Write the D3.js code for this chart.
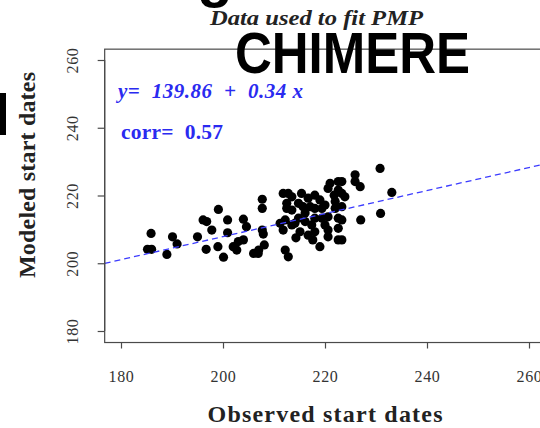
<!DOCTYPE html>
<html>
<head>
<meta charset="utf-8">
<script src="https://cdn.jsdelivr.net/npm/d3@7/dist/d3.min.js"></script>
<style>
  html, body { margin: 0; padding: 0; background: #fff; }
  svg { display: block; }
</style>
</head>
<body>
<svg id="chart" width="540" height="428"></svg>
<script>
// ---- data ----
const observed = [
  185.2, 186.0, 185.9, 189.0, 190.1, 191.0, 195.0, 196.1, 196.8, 197.8,
  196.7, 199.1, 200.9, 200.9, 204.0, 204.6, 199.0, 200.1, 202.0, 202.7,
  203.0, 204.0, 206.9, 206.0, 207.0, 208.1, 207.7, 207.7, 207.7, 207.9,
  211.8, 212.8, 213.5, 212.5, 212.5, 211.2, 212.2, 211.8, 213.5, 214.1,
  212.2, 212.8, 221.0, 222.6, 220.6, 222.6, 215.4, 216.7, 218.0, 219.0,
  220.0, 214.8, 215.7, 217.1, 218.0, 219.4, 222.0, 222.0, 214.8, 216.1,
  217.4, 218.0, 219.4, 220.6, 215.1, 216.7, 218.0, 220.6, 220.6, 222.6,
  222.6, 222.6, 219.0, 223.3, 225.9, 225.9, 226.9, 230.8, 223.3, 223.9,
  233.1, 223.3, 223.3, 227.0, 230.9, 223.3, 213.5, 216.1, 220.0, 217.6,
  221.8, 214.3
];
const modeled = [
  204.1, 204.1, 208.8, 202.6, 207.8, 205.7, 207.8, 212.8, 212.3, 209.8,
  204.1, 215.9, 212.8, 209.0, 213.0, 210.8, 204.9, 201.8, 204.9, 203.9,
  206.4, 206.9, 202.9, 202.9, 203.9, 205.4, 218.9, 216.2, 209.8, 208.6,
  220.6, 220.6, 219.6, 217.7, 216.2, 211.8, 212.8, 209.8, 211.3, 211.8,
  203.9, 201.9, 223.6, 224.1, 222.1, 221.6, 220.6, 219.2, 220.1, 218.7,
  217.2, 217.7, 216.7, 216.7, 216.2, 216.2, 218.2, 216.2, 213.3, 212.3,
  211.3, 213.3, 213.3, 213.7, 209.3, 208.3, 209.3, 209.8, 207.8, 213.3,
  210.3, 206.9, 204.9, 224.1, 226.1, 224.1, 222.6, 228.0, 220.6, 219.6,
  220.9, 216.7, 212.8, 212.8, 214.7, 206.9, 215.7, 214.8, 211.3, 206.9,
  220.1, 207.5
];
const xTicks = [180, 200, 220, 240, 260];
const yTicks = [180, 200, 220, 240, 260];
const fitIntercept = 139.86;
const fitSlope = 0.34;
const corrValue = 0.57;
const xLimits = [176.8, 263.2];
const yLimits = [176.6, 263.2];
const titleText = "Data used to fit PMP";
const overlayText = "CHIMERE";
const xTitle = "Observed start dates";
const yTitle = "Modeled start dates";

// ---- drawing ----
const svg = d3.select("#chart");
const x = d3.scaleLinear().domain([180, 260]).range([121, 529]);
const y = d3.scaleLinear().domain([180, 260]).range([331, 60]);

const serif = "'Liberation Serif', 'DejaVu Serif', serif";
const sans = "'Liberation Sans', Arial, sans-serif";

// clip for plot region
const x0 = x(xLimits[0]), x1 = x(xLimits[1]);
const y0 = y(yLimits[1]), y1 = y(yLimits[0]);
svg.append("clipPath").attr("id", "plotclip")
  .append("rect").attr("x", x0).attr("y", y0).attr("width", x1 - x0).attr("height", y1 - y0);

// points
const pts = observed.map((d, i) => ({ o: d, m: modeled[i] }));
svg.append("g").selectAll("circle").data(pts).join("circle")
  .attr("cx", d => x(d.o)).attr("cy", d => y(d.m)).attr("r", 4.6)
  .attr("fill", "#000");

// regression line (abline)
svg.append("line")
  .attr("clip-path", "url(#plotclip)")
  .attr("x1", x(xLimits[0])).attr("y1", y(fitIntercept + fitSlope * xLimits[0]))
  .attr("x2", x(xLimits[1])).attr("y2", y(fitIntercept + fitSlope * xLimits[1]))
  .attr("stroke", "#3c3cff").attr("stroke-width", 1.3)
  .attr("stroke-dasharray", "6,4");

// box
svg.append("rect").attr("x", x0).attr("y", y0).attr("width", x1 - x0).attr("height", y1 - y0)
  .attr("fill", "none").attr("stroke", "#4a4a4a").attr("stroke-width", 1.2);

// x axis
const gx = svg.append("g").attr("transform", `translate(0,${y1})`)
  .call(d3.axisBottom(x).tickValues(xTicks).tickSize(6).tickFormat(d3.format("d")));
gx.select(".domain").attr("stroke", "#4a4a4a").attr("stroke-width", 1.2)
  .attr("d", `M${x(180)},0H${x(260)}`);
gx.selectAll(".tick line").attr("stroke", "#4a4a4a").attr("stroke-width", 1.2);
gx.selectAll(".tick text").attr("y", 39).attr("dy", 0)
  .attr("font-family", serif).attr("font-size", 16).attr("fill", "#333")
  .attr("letter-spacing", 0.6);

// y axis
const gy = svg.append("g").attr("transform", `translate(${x0},0)`)
  .call(d3.axisLeft(y).tickValues(yTicks).tickSize(7).tickFormat(d3.format("d")));
gy.select(".domain").attr("stroke", "#4a4a4a").attr("stroke-width", 1.2)
  .attr("d", `M0,${y(180)}V${y(260)}`);
gy.selectAll(".tick line").attr("stroke", "#4a4a4a").attr("stroke-width", 1.2);
gy.selectAll(".tick text")
  .attr("x", 0).attr("y", 0).attr("dy", 0)
  .attr("transform", "translate(-27,0) rotate(-90)")
  .attr("text-anchor", "middle")
  .attr("font-family", serif).attr("font-size", 16).attr("fill", "#333")
  .attr("letter-spacing", 0.6);

// axis titles
svg.append("text").attr("x", 325).attr("y", 422).attr("text-anchor", "middle")
  .attr("font-family", serif).attr("font-weight", "bold").attr("font-size", 24)
  .attr("fill", "#222").attr("textLength", 235).attr("lengthAdjust", "spacing")
  .text(xTitle);
svg.append("text").attr("transform", "translate(35,175) rotate(-90)").attr("text-anchor", "middle")
  .attr("font-family", serif).attr("font-weight", "bold").attr("font-size", 24)
  .attr("fill", "#222").attr("textLength", 206).attr("lengthAdjust", "spacing")
  .text(yTitle);

// subtitle
svg.append("text").attr("x", 210).attr("y", 25)
  .attr("font-family", serif).attr("font-weight", "bold").attr("font-style", "italic")
  .attr("font-size", 21).attr("fill", "#222")
  .attr("textLength", 213).attr("lengthAdjust", "spacingAndGlyphs")
  .text(titleText);

// fit annotations
svg.append("text").attr("x", 118).attr("y", 98)
  .attr("xml:space", "preserve").style("white-space", "pre")
  .attr("font-family", serif).attr("font-weight", "bold").attr("font-style", "italic")
  .attr("font-size", 21).attr("fill", "#2a2af0")
  .attr("textLength", 185).attr("lengthAdjust", "spacing")
  .text(`y=  ${fitIntercept.toFixed(2)}  +  ${fitSlope.toFixed(2)} x`);
svg.append("text").attr("x", 121).attr("y", 139)
  .attr("xml:space", "preserve").style("white-space", "pre")
  .attr("font-family", serif).attr("font-weight", "bold")
  .attr("font-size", 21.5).attr("fill", "#2a2af0")
  .attr("textLength", 102).attr("lengthAdjust", "spacing")
  .text(`corr=  ${corrValue.toFixed(2)}`);

// overlay slide text
svg.append("text").attr("x", 235).attr("y", 73)
  .attr("font-family", sans).attr("font-weight", "bold").attr("font-size", 58)
  .attr("fill", "#000").attr("textLength", 235).attr("lengthAdjust", "spacingAndGlyphs")
  .text(overlayText);
svg.append("text").attr("x", 215).attr("y", -4).attr("text-anchor", "middle")
  .attr("font-family", sans).attr("font-weight", "bold").attr("font-size", 58)
  .attr("fill", "#000").text("g");
svg.append("rect").attr("x", 0).attr("y", 93).attr("width", 6).attr("height", 42).attr("fill", "#000");
</script>
</body>
</html>
